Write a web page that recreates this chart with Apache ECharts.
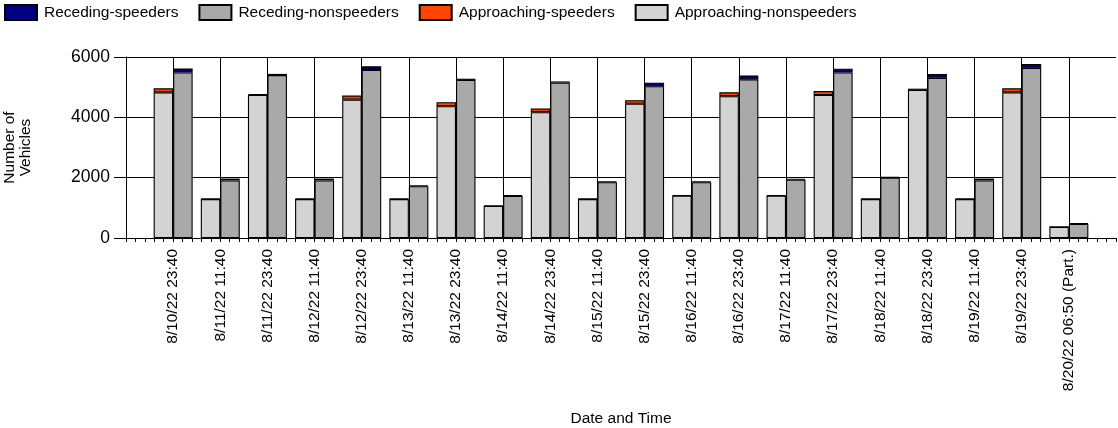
<!DOCTYPE html>
<html>
<head>
<meta charset="utf-8">
<script src="https://cdn.jsdelivr.net/npm/echarts@6/dist/echarts.min.js"></script>
<style>
html,body{margin:0;padding:0;background:#fff;}
#c{width:1118px;height:428px;}
</style>
</head>
<body>
<div id="c"></div>
<script>
const categories = ['8/10/22 23:40','8/11/22 11:40','8/11/22 23:40','8/12/22 11:40','8/12/22 23:40','8/13/22 11:40','8/13/22 23:40','8/14/22 11:40','8/14/22 23:40','8/15/22 11:40','8/15/22 23:40','8/16/22 11:40','8/16/22 23:40','8/17/22 11:40','8/17/22 23:40','8/18/22 11:40','8/18/22 23:40','8/19/22 11:40','8/19/22 23:40','8/20/22 06:50 (Part.)'];
const approachingNonspeeders = [4830,1290,4740,1290,4590,1290,4370,1060,4170,1290,4450,1400,4700,1400,4740,1290,4910,1290,4830,365];
const approachingSpeeders   = [130,20,30,20,130,20,130,20,120,20,120,20,130,20,130,20,40,20,130,10];
const recedingNonspeeders   = [5490,1910,5400,1910,5570,1715,5240,1395,5150,1850,5030,1850,5260,1935,5490,2000,5310,1910,5640,465];
const recedingSpeeders      = [130,60,40,60,120,30,40,30,40,30,120,30,130,30,120,30,130,60,130,20];
const yTicks = [0,2000,4000,6000];

// pad with empty slots at both ends so categories sit on positions 1..20 of 0..21
const axisCats = [''].concat(categories, ['']);
const pad = arr => [null].concat(arr, [null]);

const FONT = 'Liberation Sans, Arial, sans-serif';
const chart = echarts.init(document.getElementById('c'), null, {renderer:'canvas'});

function bar(name, stack, data, color){
  return {
    name, type:'bar', stack, data: pad(data),
    barWidth: 19.5, barGap: '0%',
    itemStyle:{color, borderColor:'#000', borderWidth:1.1},
    emphasis:{disabled:true}
  };
}

chart.setOption({
  animation:false,
  textStyle:{fontFamily:FONT},
  legend:{
    left:4, top:4, padding:0, itemWidth:32, itemHeight:15, itemGap:20,
    icon:'rect',
    data:['Receding-speeders','Receding-nonspeeders','Approaching-speeders','Approaching-nonspeeders'],
    textStyle:{fontSize:15.5, color:'#000', fontFamily:FONT, padding:[0,0,0,2]},
    selectedMode:false
  },
  grid:{left:126, right:2, top:57, bottom:190, containLabel:false, outerBoundsMode:'none'},
  xAxis:[{
    type:'category', data:axisCats, boundaryGap:false,
    axisLine:{lineStyle:{color:'#000', width:1}},
    axisTick:{show:false},
    axisLabel:{interval:0, rotate:90, fontSize:15.5, color:'#000', margin:11, fontFamily:FONT},
    splitLine:{show:true, interval:(i)=> i!==0 && i!==axisCats.length-1, lineStyle:{color:'#000', width:1}},
    name:'Date and Time', nameLocation:'middle', nameGap:173,
    nameTextStyle:{fontSize:15.5, color:'#000', fontFamily:FONT}
  },{
    type:'value', min:0, max:axisCats.length-1, interval:1, position:'bottom',
    axisLine:{show:false}, axisLabel:{show:false}, splitLine:{show:false},
    axisTick:{show:true, length:4, lineStyle:{color:'#000'}},
    minorTick:{show:true, splitNumber:5, length:4, lineStyle:{color:'#000'}}
  }],
  yAxis:{
    type:'value', min:yTicks[0], max:yTicks[yTicks.length-1], interval:yTicks[1]-yTicks[0],
    axisLine:{show:true, lineStyle:{color:'#000'}},
    axisTick:{show:true, length:12, lineStyle:{color:'#000'}},
    axisLabel:{fontSize:17.5, color:'#000', margin:16, fontFamily:FONT, formatter:(v)=>String(v)},
    splitLine:{show:true, lineStyle:{color:'#000', width:1}},
    name:'Number of\nVehicles', nameLocation:'middle', nameGap:92, nameRotate:90,
    nameTextStyle:{fontSize:15.5, color:'#000', lineHeight:16, align:'center', fontFamily:FONT}
  },
  series:[
    bar('Approaching-nonspeeders','a',approachingNonspeeders,'#D3D3D3'),
    bar('Approaching-speeders','a',approachingSpeeders,'#FF4500'),
    bar('Receding-nonspeeders','r',recedingNonspeeders,'#A9A9A9'),
    bar('Receding-speeders','r',recedingSpeeders,'#000080')
  ]
});
</script>
</body>
</html>
